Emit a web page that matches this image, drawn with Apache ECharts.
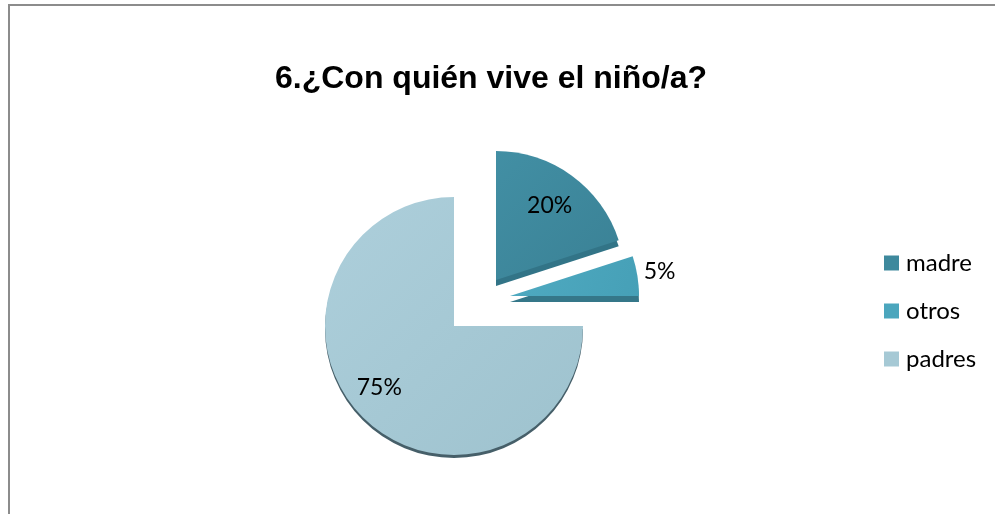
<!DOCTYPE html>
<html>
<head>
<meta charset="utf-8">
<script src="https://cdn.jsdelivr.net/npm/echarts@6/dist/echarts.min.js"></script>
<style>
html,body{margin:0;padding:0;background:#fff;}
#c{width:995px;height:514px;}
</style>
</head>
<body>
<div id="c"></div>
<script>
const titleText = '6.¿Con quién vive el niño/a?';
const categories = ['madre', 'otros', 'padres'];
const values = [20, 5, 75];
const labelTexts = ['20%', '5%', '75%'];
const topColors = ['#3e899d', '#4ba6bd', '#a6c9d5'];
const sideColors = ['#327487', '#357789', '#465f69'];

// exploded slice placement (layout only)
const centers = {
  madre: [496, 280],
  otros: [510, 296],
  padres: [454, 326]
};
const depth = { madre: 6, otros: 6, padres: 3 };
const labelShift = { madre: [14, -20], otros: [83, -14], padres: [-27, 14] };
const R = 129;

function gradient(c1, c2) {
  return { type: 'linear', x: 0, y: 0, x2: 1, y2: 1,
    colorStops: [{ offset: 0, color: c1 }, { offset: 1, color: c2 }] };
}
const topGrad = [
  gradient('#428fa4', '#3a8195'),
  gradient('#4faac1', '#46a0b7'),
  gradient('#adcfdb', '#9ec2ce')
];

function makeSeries(idx, isSide) {
  const name = categories[idx];
  const c = centers[name];
  const center = isSide ? [c[0], c[1] + depth[name]] : c;
  return {
    type: 'pie',
    name: name + (isSide ? '-side' : ''),
    radius: R,
    center: center,
    startAngle: 90,
    clockwise: true,
    silent: true,
    z: isSide ? 1 : 2,
    label: {
      show: !isSide,
      position: 'inside',
      fontFamily: 'Lato',
      fontSize: 23,
      color: '#000',
      formatter: p => labelTexts[p.dataIndex]
    },
    labelLine: { show: false },
    labelLayout: isSide ? undefined : function (p) {
      if (p.dataIndex !== idx) return {};
      const s = labelShift[name];
      return { dx: s[0], dy: s[1] };
    },
    emphasis: { disabled: true },
    data: categories.map((n, i) => ({
      name: n,
      value: values[i],
      itemStyle: {
        color: i === idx ? (isSide ? sideColors[i] : topGrad[i]) : 'rgba(0,0,0,0)',
        borderWidth: 0
      },
      label: { show: !isSide && i === idx }
    }))
  };
}

const series = [];
categories.forEach((n, i) => series.push(makeSeries(i, true)));
categories.forEach((n, i) => series.push(makeSeries(i, false)));

const chart = echarts.init(document.getElementById('c'), null, { renderer: 'canvas' });
chart.setOption({
  animation: false,
  backgroundColor: '#fff',
  title: {
    text: titleText,
    left: 270,
    top: 58,
    textStyle: { fontFamily: 'Liberation Sans', fontWeight: 'bold', fontSize: 32, color: '#000' }
  },
  legend: {
    orient: 'vertical',
    left: 879,
    top: 246,
    icon: 'rect',
    itemWidth: 15,
    itemHeight: 15,
    itemGap: 24,
    selectedMode: false,
    textStyle: { fontFamily: 'Lato', fontSize: 24, color: '#000', padding: [0, 0, 0, 2] },
    data: categories.map((n, i) => ({ name: n, itemStyle: { color: topColors[i] } }))
  },
  graphic: [{
    type: 'rect',
    shape: { x: 9, y: 5, width: 1000, height: 530 },
    style: { fill: 'none', stroke: '#8c8c8c', lineWidth: 2 },
    silent: true
  }],
  series: series
});
</script>
</body>
</html>
